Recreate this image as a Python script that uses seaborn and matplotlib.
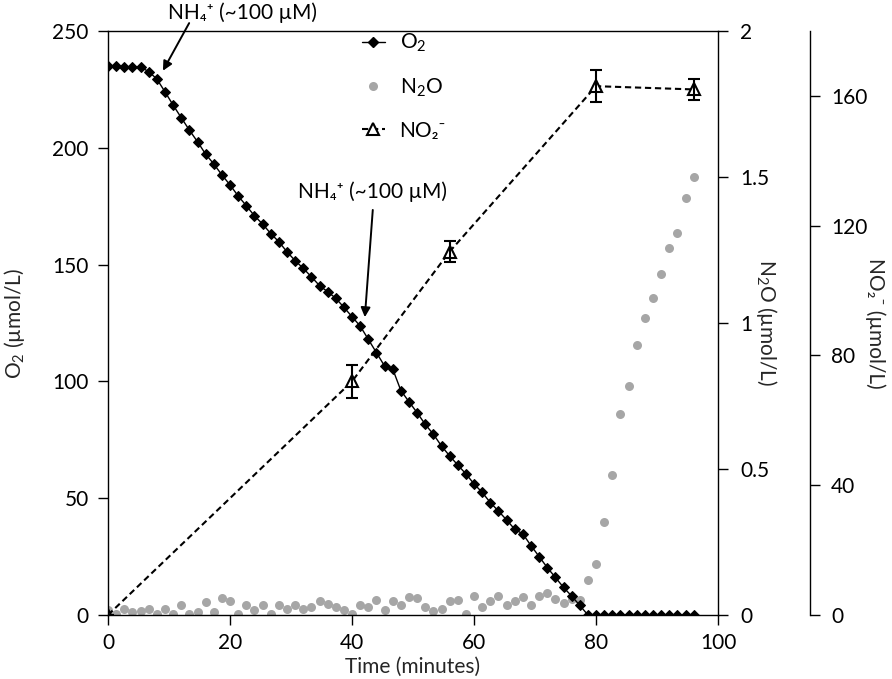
import matplotlib
matplotlib.use("Agg")
import matplotlib.pyplot as plt
from matplotlib.lines import Line2D
from matplotlib.ticker import FuncFormatter
import seaborn as sns

# sampling times (minutes), shared by the O2 and N2O series
time_min = [0, 1.33, 2.67, 4, 5.33, 6.67, 8, 9.33, 10.67, 12, 13.33, 14.67,
            16, 17.33, 18.67, 20, 21.33, 22.67, 24, 25.33, 26.67, 28, 29.33,
            30.67, 32, 33.33, 34.67, 36, 37.33, 38.67, 40, 41.33, 42.67, 44,
            45.33, 46.67, 48, 49.33, 50.67, 52, 53.33, 54.67, 56, 57.33, 58.67,
            60, 61.33, 62.67, 64, 65.33, 66.67, 68, 69.33, 70.67, 72, 73.33,
            74.67, 76, 77.33, 78.67, 80, 81.33, 82.67, 84, 85.33, 86.67, 88,
            89.33, 90.67, 92, 93.33, 94.67, 96]

o2 = [235, 235, 234.6, 234.6, 234.6, 232.6, 229.5, 224, 218.3, 212.9, 207.6,
      202.6, 197.3, 193.1, 188.4, 184.1, 179.4, 175.2, 170.9, 167.4, 163.3,
      159.8, 155.5, 151.7, 148.4, 144.8, 141, 138.4, 135.6, 131.7, 127.7,
      123.7, 118, 112.3, 106.6, 105.3, 96.1, 91.3, 86.6, 81.6, 77.4, 72.3,
      68.1, 64.2, 60.4, 56.1, 52.5, 48.1, 44.5, 40.7, 36.7, 34.7, 29.7, 25,
      20.3, 16.1, 11.8, 8.1, 4.1, 0, 0, 0, 0, 0, 0, 0, 0, 0, 0, 0, 0, 0, 0]

n2o = [0.017, 0.003, 0.020, 0.009, 0.012, 0.020, 0.003, 0.020, 0.003, 0.034,
       0.003, 0.009, 0.043, 0.009, 0.057, 0.047, 0.003, 0.034, 0.017, 0.034,
       0.003, 0.034, 0.020, 0.034, 0.020, 0.027, 0.049, 0.038, 0.027, 0.017,
       0.003, 0.034, 0.027, 0.052, 0.017, 0.047, 0.034, 0.060, 0.057, 0.027,
       0.012, 0.020, 0.047, 0.052, 0.003, 0.066, 0.027, 0.047, 0.066, 0.034,
       0.047, 0.060, 0.034, 0.066, 0.074, 0.055, 0.042, 0.055, 0.050,
       0.120, 0.175, 0.317, 0.478, 0.688, 0.784, 0.925, 1.018, 1.087, 1.168,
       1.257, 1.308, 1.428, 1.501]

no2_time = [0, 40, 56, 80, 96]
no2 = [0, 72, 112, 163, 162]
no2_err = [0, 5, 3.3, 5, 3.3]

o2_ticks = [0, 50, 100, 150, 200, 250]
time_ticks = [0, 20, 40, 60, 80, 100]
n2o_ticks = [0, 0.5, 1, 1.5, 2]
no2_ticks = [0, 40, 80, 120, 160]

# NH4+ additions: (arrow tip, arrow start, text centre) in (min, O2) units
nh4_notes = [((9.0, 233), (13.3, 253.4), (22.1, 258)),
             ((42.1, 127.5), (43.4, 173.4), (43.3, 181))]
nh4_label = "NH₄⁺ (~100 µM)"

FS = 15
GREY = "#a6a6a6"

sns.set_theme(style="ticks")
plt.rcParams["font.family"] = ["Lato", "DejaVu Sans"]
plt.rcParams["mathtext.fontset"] = "custom"
plt.rcParams["mathtext.rm"] = "Lato"
plt.rcParams["mathtext.it"] = "Lato:italic"
plt.rcParams["mathtext.bf"] = "Lato:bold"
plt.rcParams["text.color"] = "black"

fig = plt.figure(figsize=(8.92, 6.79), dpi=100)
ax = fig.add_axes([0.1211, 0.0943, 0.6839, 0.86])
ax2 = ax.twinx()
ax3 = ax.twinx()
ax.set_zorder(3)
ax.patch.set_visible(False)
ax3.set_zorder(2)
ax2.set_zorder(1)

# N2O (middle axis)
sns.scatterplot(x=time_min, y=n2o, ax=ax2, color=GREY, s=42,
                linewidth=0, zorder=2)

# NO2- (outer axis)
sns.lineplot(x=no2_time, y=no2, ax=ax3, color="black", linewidth=1.5,
             dashes=False, linestyle=(0, (3, 1.8)), marker="^", markersize=8,
             markerfacecolor="white", markeredgecolor="black",
             markeredgewidth=1.5, zorder=3)
ax3.errorbar(no2_time, no2, yerr=no2_err, fmt="none", ecolor="black",
             elinewidth=1.5, capsize=4, capthick=1.5, zorder=3)

# O2 (main axis)
sns.lineplot(x=time_min, y=o2, ax=ax, color="black", linewidth=1,
             marker="D", markersize=5, markeredgecolor="black", zorder=4)

ax.set_xlim(0, 100)
ax.set_ylim(0, 250)
ax2.set_ylim(0, 2)
ax3.set_ylim(0, 180)
ax.set_xticks(time_ticks)
ax.set_yticks(o2_ticks)
ax2.set_yticks(n2o_ticks)
ax3.set_yticks(no2_ticks)
ax2.yaxis.set_major_formatter(FuncFormatter(lambda v, p: f"{v:g}"))

for a in (ax, ax2, ax3):
    for sp in a.spines.values():
        sp.set_color("black")
        sp.set_linewidth(1)
    a.tick_params(axis="both", direction="out", length=7, width=1,
                  colors="black", labelsize=FS)
    a.grid(False)

ax.spines["right"].set_visible(False)
ax.tick_params(axis="y", pad=7)
ax.tick_params(axis="x", pad=6)
for side in ("left", "top", "bottom"):
    ax2.spines[side].set_visible(False)
    ax3.spines[side].set_visible(False)
ax2.tick_params(axis="y", pad=9)
ax3.spines["right"].set_position(("axes", 1.1508))
ax3.tick_params(axis="y", pad=8)

ax.set_xlabel("Time (minutes)", fontsize=FS, va="center")
ax.xaxis.set_label_coords(0.5, -0.089)
ax.set_ylabel("O$_2$ (µmol/L)", fontsize=FS, va="center")
ax.yaxis.set_label_coords(-0.1525, 0.5)
ax2.set_ylabel("N$_2$O (µmol/L)", fontsize=FS, rotation=270, va="center")
ax2.yaxis.set_label_coords(1.0787, 0.5)
ax3.set_ylabel("NO₂⁻ (µmol/L)", fontsize=FS, rotation=270, va="center")
ax3.yaxis.set_label_coords(1.2577, 0.5)

for tip, start, txt in nh4_notes:
    ax.annotate("", xy=tip, xytext=start, annotation_clip=False,
                arrowprops=dict(arrowstyle="-|>", color="black", lw=1.4,
                                mutation_scale=14, shrinkA=0, shrinkB=0))
    ax.text(txt[0], txt[1], nh4_label, fontsize=FS, ha="center", va="center",
            clip_on=False)

handles = [
    Line2D([], [], color="black", linewidth=1, marker="D", markersize=5),
    Line2D([], [], color=GREY, linestyle="none", marker="o", markersize=6.5,
           markeredgewidth=0),
    Line2D([], [], color="black", linewidth=1.5, linestyle=(0, (3, 1.8)),
           marker="^", markersize=8, markerfacecolor="white",
           markeredgewidth=1.5),
]
ax.legend(handles, ["O$_2$", "N$_2$O", "NO₂⁻"], loc="upper left",
          bbox_to_anchor=(0.4164, 0.998), frameon=False, fontsize=FS,
          handlelength=1.1, handletextpad=0.7, labelspacing=1.05,
          borderpad=0, borderaxespad=0)

fig.savefig("out.png", dpi=100, facecolor="white")
